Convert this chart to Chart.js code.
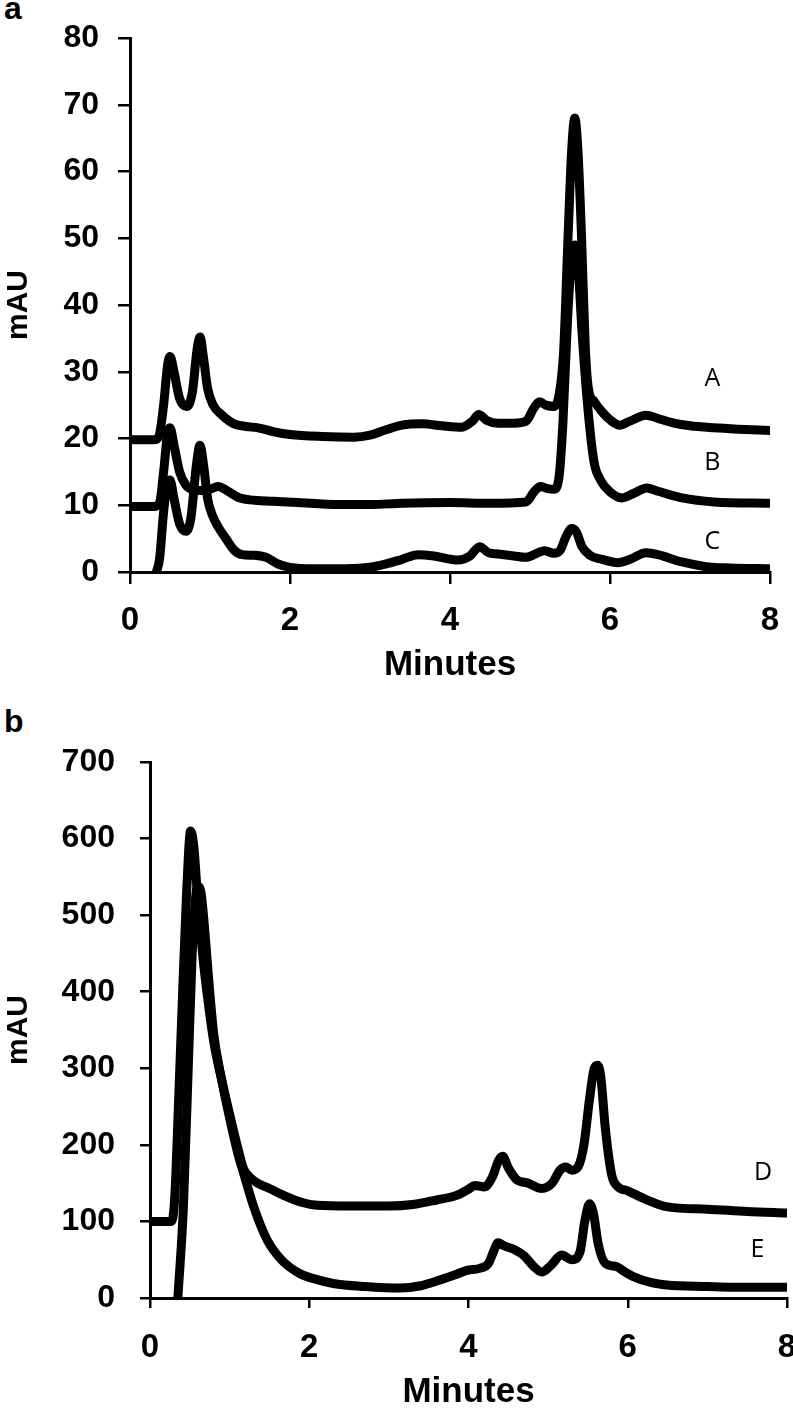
<!DOCTYPE html>
<html>
<head>
<meta charset="utf-8">
<script src="https://cdn.jsdelivr.net/npm/chart.js@4"></script>
<style>
  body { margin: 0; background: #fff; width: 793px; height: 1410px; position: relative; overflow: hidden; }
  .panel { position: absolute; left: 0; }
  .tag { position: absolute; left: 4px; font: bold 32px "Liberation Sans", Arial, sans-serif; color: #000; }
</style>
</head>
<body>
<div class="tag" style="top:-10px">a</div>
<div class="tag" style="top:703px">b</div>
<div class="panel" style="top:0"><canvas id="chartA" width="793" height="690"></canvas></div>
<div class="panel" style="top:700px"><canvas id="chartB" width="793" height="710"></canvas></div>
<script>
  // chromatogram traces, [minutes, mAU]
  const traceA = [[0,19.8],[0.3,19.8],[0.36,20.3],[0.42,25],[0.47,31],[0.5,32.3],[0.55,30],[0.62,26],[0.71,24.8],[0.78,27],[0.84,33.5],[0.875,35.2],[0.92,32],[0.97,27.5],[1.04,25],[1.15,23.5],[1.3,22.2],[1.45,21.8],[1.6,21.6],[1.8,21],[2.0,20.6],[2.4,20.3],[2.8,20.2],[3.0,20.5],[3.2,21.3],[3.4,22],[3.65,22.2],[3.9,21.9],[4.15,21.7],[4.28,22.6],[4.36,23.6],[4.46,22.7],[4.6,22.3],[4.8,22.3],[4.95,22.6],[5.05,24.6],[5.12,25.5],[5.2,25],[5.3,24.8],[5.37,27],[5.42,33],[5.475,50],[5.52,63],[5.56,68],[5.6,63],[5.645,50],[5.69,34],[5.73,27.5],[5.8,25.6],[5.9,24],[6.0,22.8],[6.12,22],[6.25,22.6],[6.45,23.5],[6.6,23],[6.8,22.3],[7.0,21.9],[7.3,21.6],[7.6,21.4],[8.0,21.2]];
  const traceB = [[0,9.8],[0.3,9.8],[0.37,10.4],[0.42,15],[0.47,20.8],[0.5,21.6],[0.55,19],[0.62,15],[0.7,13],[0.8,12.3],[0.9,12.2],[1.0,12.4],[1.1,12.8],[1.2,12.3],[1.35,11.2],[1.5,10.8],[1.8,10.6],[2.1,10.4],[2.6,10.1],[3.0,10.1],[3.4,10.3],[4.0,10.4],[4.5,10.3],[4.95,10.5],[5.05,12],[5.13,12.8],[5.22,12.5],[5.3,12.4],[5.36,14],[5.41,22],[5.47,38],[5.52,47],[5.56,49],[5.6,46],[5.65,36],[5.72,25],[5.8,16.5],[5.88,13.8],[6.0,12],[6.15,11.1],[6.3,11.8],[6.46,12.6],[6.6,12.1],[6.9,11.1],[7.3,10.5],[8.0,10.3]];
  const traceC = [[0.33,0],[0.37,2],[0.42,9],[0.47,13.4],[0.5,13.8],[0.55,11],[0.62,7.2],[0.7,6.1],[0.76,8],[0.83,16],[0.875,19],[0.92,16],[0.97,11],[1.03,8.5],[1.1,6.8],[1.2,5],[1.3,3.3],[1.4,2.6],[1.55,2.5],[1.7,2.2],[1.85,1.2],[2.0,0.7],[2.3,0.5],[2.7,0.5],[3.0,0.7],[3.2,1.2],[3.4,1.9],[3.6,2.6],[3.8,2.4],[4.1,1.8],[4.25,2.4],[4.37,3.8],[4.48,2.9],[4.6,2.7],[4.8,2.4],[4.95,2.2],[5.1,2.9],[5.18,3.2],[5.3,2.8],[5.38,3.3],[5.45,5.3],[5.52,6.5],[5.58,6],[5.65,3.8],[5.75,2.5],[5.9,1.9],[6.1,1.4],[6.25,1.9],[6.45,2.9],[6.6,2.6],[6.9,1.5],[7.2,0.8],[7.5,0.6],[8.0,0.5]];
  const traceD = [[0,100],[0.27,100],[0.31,130],[0.36,260],[0.41,400],[0.46,530],[0.51,610],[0.55,590],[0.6,520],[0.66,450],[0.72,395],[0.8,335],[0.9,285],[1.0,240],[1.1,197],[1.17,170],[1.25,158],[1.35,150],[1.5,143],[1.7,133],[1.9,125],[2.1,121],[2.5,120],[3.0,120],[3.3,122],[3.6,128],[3.85,134],[4.0,142],[4.08,147],[4.2,145],[4.3,158],[4.38,180],[4.43,185],[4.5,170],[4.6,155],[4.75,150],[4.92,143],[5.05,150],[5.15,167],[5.22,171],[5.3,167],[5.38,172],[5.45,200],[5.52,260],[5.58,300],[5.62,304],[5.66,290],[5.72,220],[5.8,160],[5.88,145],[6.0,140],[6.2,130],[6.5,119],[7.0,116],[7.5,113],[8.0,111]];
  const traceE = [[0.35,0],[0.42,120],[0.48,300],[0.53,450],[0.57,520],[0.6,538],[0.64,530],[0.68,490],[0.73,425],[0.8,345],[0.9,285],[1.0,235],[1.1,190],[1.17,165],[1.3,120],[1.47,76],[1.65,50],[1.88,32],[2.1,24],[2.3,19],[2.7,15],[3.14,13],[3.4,16],[3.64,23.5],[3.85,31],[3.98,36],[4.15,39],[4.25,45],[4.32,62],[4.37,72],[4.45,68],[4.58,63],[4.7,55],[4.83,40],[4.92,34],[5.03,42],[5.17,56],[5.3,50],[5.4,60],[5.46,100],[5.52,123],[5.57,110],[5.63,70],[5.72,45],[5.86,41],[5.95,35],[6.07,28],[6.3,20],[6.49,17],[7.0,15],[7.32,14],[8.0,14]];

  const namesTop = ['A', 'B', 'C'];
  const namesBottom = ['D', 'E'];
  // where each trace name sits, in [minutes, mAU]
  const namePosTop = [[7.28, 29], [7.28, 16.4], [7.28, 4.5]];
  const namePosBottom = [[7.7, 163], [7.63, 63]];

  const xTicks = [0, 2, 4, 6, 8];

  const toXY = pts => pts.map(p => ({ x: p[0], y: p[1] }));

  // writes the trace names next to the curves
  const traceNames = {
    id: 'traceNames',
    afterDatasetsDraw(chart, args, opts) {
      const { ctx, scales: { x, y } } = chart;
      ctx.save();
      ctx.font = '25px "Open Sans", sans-serif';
      ctx.fillStyle = '#000';
      ctx.textAlign = 'center';
      ctx.textBaseline = 'middle';
      opts.names.forEach((n, i) => {
        ctx.fillText(n, x.getPixelForValue(opts.at[i][0]), y.getPixelForValue(opts.at[i][1]));
      });
      ctx.restore();
    }
  };

  function lineSet(label, pts, w) {
    return {
      label: label,
      data: toXY(pts),
      borderColor: '#000',
      borderWidth: w,
      pointRadius: 0,
      fill: false,
      cubicInterpolationMode: 'monotone',
      borderJoinStyle: 'round',
      borderCapStyle: 'round',
    };
  }

  function makeConfig(sets, yMax, yStep, g) {
    return {
      type: 'line',
      data: { datasets: sets },
      plugins: [traceNames],
      options: {
        responsive: false,
        animation: false,
        devicePixelRatio: 1,
        layout: { autoPadding: false, padding: { left: 0, right: g.right, top: g.top, bottom: 0 } },
        plugins: {
          legend: { display: false },
          tooltip: { enabled: false },
          traceNames: { names: g.names, at: g.at },
        },
        scales: {
          x: {
            type: 'linear',
            min: 0,
            max: 8,
            afterFit: s => { s.height = g.xH; s.paddingLeft = 0; s.paddingRight = 0; },
            afterBuildTicks: s => { s.ticks = xTicks.map(v => ({ value: v })); },
            border: { color: '#000', width: 3 },
            grid: { drawOnChartArea: false, color: '#000', lineWidth: 2.5, tickLength: g.tick },
            ticks: { color: '#000', padding: g.xPad, font: { family: 'Liberation Sans', weight: 'bold', size: 33, lineHeight: 1 } },
            title: {
              display: true, text: 'Minutes', color: '#000',
              padding: { top: 0, bottom: g.xTitlePad },
              font: { family: 'Liberation Sans', weight: 'bold', size: 35, lineHeight: 1 },
            },
          },
          y: {
            min: 0,
            max: yMax,
            afterFit: s => { s.width = g.yW; s.paddingTop = 0; s.paddingBottom = 0; },
            border: { color: '#000', width: 3 },
            grid: { drawOnChartArea: false, color: '#000', lineWidth: 2.5, tickLength: g.tick },
            ticks: { stepSize: yStep, color: '#000', padding: g.yPad, font: { family: 'Liberation Sans', weight: 'bold', size: 32, lineHeight: 1 } },
            title: {
              display: true, text: 'mAU', color: '#000',
              padding: { top: 4, bottom: 0 },
              font: { family: 'Liberation Sans', weight: 'bold', size: 30, lineHeight: 1 },
            },
          },
        },
      },
    };
  }

  new Chart(document.getElementById('chartA'), makeConfig(
    [lineSet('A', traceA, 9), lineSet('B', traceB, 9), lineSet('C', traceC, 9)],
    80, 10,
    { right: 23, top: 38, xH: 118, yW: 130, tick: 12, xPad: 20, yPad: 19, xTitlePad: 7, names: namesTop, at: namePosTop }
  ));

  new Chart(document.getElementById('chartB'), makeConfig(
    [lineSet('D', traceD, 9), lineSet('E', traceE, 9)],
    700, 100,
    { right: 6, top: 62, xH: 112, yW: 150, tick: 10, xPad: 23, yPad: 25, xTitlePad: 0, names: namesBottom, at: namePosBottom }
  ));
</script>
</body>
</html>
